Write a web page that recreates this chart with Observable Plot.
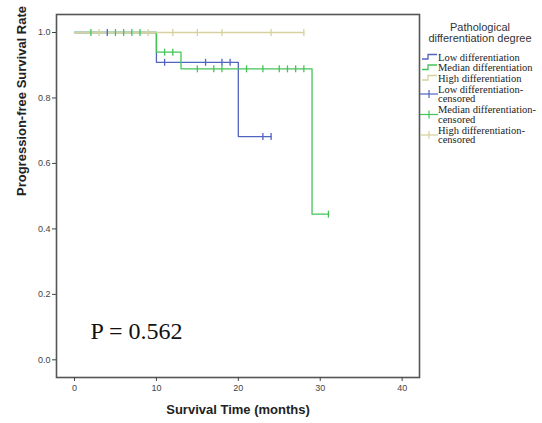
<!DOCTYPE html>
<html><head><meta charset="utf-8">
<script src="https://cdn.jsdelivr.net/npm/d3@7"></script>
<script src="https://cdn.jsdelivr.net/npm/@observablehq/plot@0.6"></script>
<style>
body{margin:0;background:#fff;}
#wrap{position:relative;width:542px;height:423px;}
</style></head><body><div id="wrap"></div>
<script>
// ---- data ----
const groups = ["Low differentiation", "Median differentiation", "High differentiation"];
const colors = ["#5064c2", "#44c457", "#d6d19f"];
const legendTitle = ["Pathological", "differentiation degree"];
const legendCensored = [["Low differentiation-", "censored"], ["Median differentiation-", "censored"], ["High differentiation-", "censored"]];

const lowTimes = [0, 10, 20, 24];
const lowSurv = [1, 0.909, 0.682, 0.682];
const medTimes = [0, 10, 13, 29, 31];
const medSurv = [1, 0.94, 0.889, 0.445, 0.445];
const highTimes = [0, 28];
const highSurv = [1, 1];

const lowCensT = [4, 11, 16, 18, 19, 23, 24];
const lowCensS = [1, 0.909, 0.909, 0.909, 0.909, 0.682, 0.682];
const medCensT = [2, 5, 6, 7, 8, 11, 12, 15, 17, 18, 21, 23, 25, 26, 27, 28, 31];
const medCensS = [1, 1, 1, 1, 1, 0.94, 0.94, 0.889, 0.889, 0.889, 0.889, 0.889, 0.889, 0.889, 0.889, 0.889, 0.445];
const highCensT = [3, 9, 12, 15, 18, 24, 28];
const highCensS = [1, 1, 1, 1, 1, 1, 1];

const xTicks = [0, 10, 20, 30, 40];
const yTicks = [0, 0.2, 0.4, 0.6, 0.8, 1.0];
const xLabel = ["Survival Time (months)"];
const yLabel = ["Progression-free Survival Rate"];
const pLabel = ["P = 0.562"];

// ---- tables ----
const curveSets = [[lowTimes, lowSurv], [medTimes, medSurv], [highTimes, highSurv]];
const censSets = [[lowCensT, lowCensS], [medCensT, medCensS], [highCensT, highCensS]];
const lines = [];
curveSets.forEach(([T, S], i) => T.forEach((t, j) => lines.push({g: groups[i], t, s: S[j]})));
const cens = [];
censSets.forEach(([T, S], i) => T.forEach((t, j) => cens.push({g: groups[i], t, s: S[j]})));

const plusSym = {draw(ctx, size) { const h = Math.sqrt(size / Math.PI); ctx.moveTo(0, -h); ctx.lineTo(0, h); }};

const plot = Plot.plot({
  width: 542, height: 423,
  marginLeft: 56, marginRight: 123, marginTop: 14, marginBottom: 46,
  x: {domain: [-2.2, 42.12], label: null},
  y: {domain: [-0.054, 1.055], label: null},
  color: {domain: groups, range: colors},
  style: {fontFamily: "'Liberation Sans', Arial, sans-serif", fontSize: "9px", color: "#444", background: "#fff"},
  marks: [
    Plot.frame({stroke: "#555", strokeWidth: 1.6}),
    Plot.axisX({ticks: xTicks, tickSize: 4, tickPadding: 3, label: null}),
    Plot.axisY({ticks: yTicks, tickSize: 4, tickPadding: 2, tickFormat: ".1f", label: null}),
    Plot.line(lines, {x: "t", y: "s", z: "g", stroke: "g", curve: "step-after", strokeWidth: 1.3}),
    Plot.dot(cens, {x: "t", y: "s", stroke: "g", symbol: plusSym, r: 3.5, strokeWidth: 1.3}),
    Plot.text(xLabel, {text: d => d, frameAnchor: "bottom", dy: 32, lineAnchor: "middle", fontWeight: "bold", fontSize: 13, fill: "#222"}),
    Plot.text(yLabel, {text: d => d, frameAnchor: "left", dx: -35, rotate: -90, lineAnchor: "middle", fontWeight: "bold", fontSize: 13, fill: "#222"}),
    Plot.text(pLabel, {text: d => d, frameAnchor: "bottom-left", dx: 34, dy: -39, lineAnchor: "bottom", textAnchor: "start", fontSize: 24, fontFamily: "'Liberation Serif', 'Times New Roman', serif", fill: "#111"})
  ]
});
document.getElementById("wrap").appendChild(plot);

// ---- legend ----
const svg = d3.select(plot);
const lg = svg.append("g").attr("class", "legend");
lg.selectAll("text.title").data(legendTitle).join("text").attr("class", "title")
  .attr("x", 480).attr("y", (d, i) => 27 + i * 11).attr("dy", "0.35em")
  .attr("text-anchor", "middle").attr("font-family", "'Liberation Sans', Arial, sans-serif")
  .attr("font-size", 11).attr("fill", "#333").text(d => d);
const serif = "'Liberation Serif', 'Times New Roman', serif";
groups.forEach((g, i) => {
  const y = 57 + i * 10.5;
  lg.append("path").attr("d", `M422,${y + 2}H428V${y - 2.5}H437`).attr("fill", "none").attr("stroke", colors[i]).attr("stroke-width", 1.3);
  lg.append("text").attr("x", 438).attr("y", y).attr("dy", "0.35em").attr("text-anchor", "start").attr("font-family", serif).attr("font-size", 10.5).attr("fill", "#222").text(g);
});
legendCensored.forEach((lbl, i) => {
  const y0 = 89 + i * 20.5;
  lg.append("line").attr("x1", 420).attr("x2", 438).attr("y1", y0 + 5).attr("y2", y0 + 5).attr("stroke", colors[i]).attr("stroke-width", 1.2);
  lg.append("line").attr("x1", 429).attr("x2", 429).attr("y1", y0 + 1).attr("y2", y0 + 9).attr("stroke", colors[i]).attr("stroke-width", 1.2);
  lbl.forEach((t, k) => lg.append("text").attr("x", 438).attr("y", y0 + k * 9.5).attr("dy", "0.35em").attr("text-anchor", "start").attr("font-family", serif).attr("font-size", 10.5).attr("fill", "#222").text(t));
});
</script></body></html>
